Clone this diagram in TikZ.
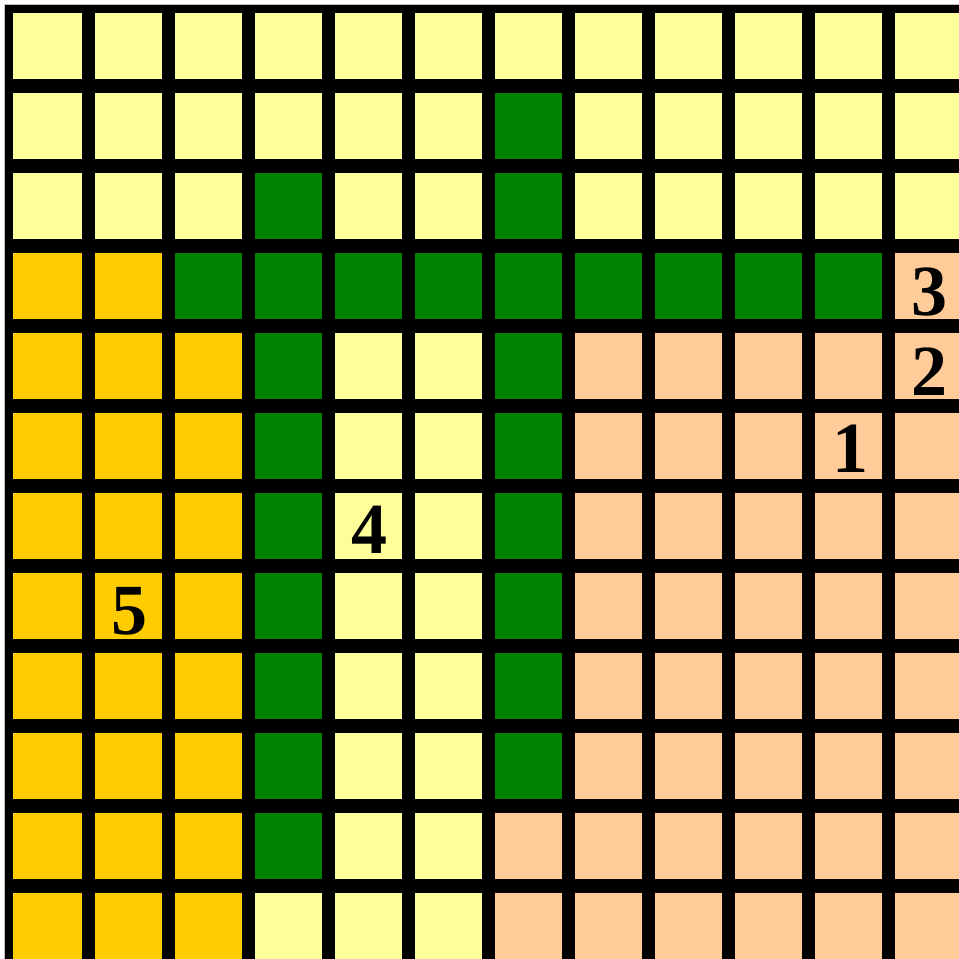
\documentclass[tikz,border=0pt]{standalone}
\usepackage{fontspec}
\setmainfont{Liberation Serif}
\definecolor{cY}{HTML}{FFFF99}
\definecolor{cO}{HTML}{FFCC00}
\definecolor{cG}{HTML}{008000}
\definecolor{cP}{HTML}{FFCC99}
\tikzset{
  num/.style={inner sep=0pt, anchor=base, font=\fontsize{72}{72}\selectfont\bfseries, text=black},
  cellfill/.style={fill=#1}
}
\begin{document}
\begin{tikzpicture}[x=1pt,y=-1pt]
\useasboundingbox (0,0) rectangle (959,959);
\fill[white] (0,0) rectangle (959,959);
\draw[black!25, line width=1pt] (4,959) -- (4,4) -- (959,4);
\fill[black] (5,5) rectangle (959,959);
\begin{scope}
\clip (5,5) rectangle (959,959);
\foreach \r/\l in {
 0/{Y,Y,Y,Y,Y,Y,Y,Y,Y,Y,Y,Y},
 1/{Y,Y,Y,Y,Y,Y,G,Y,Y,Y,Y,Y},
 2/{Y,Y,Y,G,Y,Y,G,Y,Y,Y,Y,Y},
 3/{O,O,G,G,G,G,G,G,G,G,G,P},
 4/{O,O,O,G,Y,Y,G,P,P,P,P,P},
 5/{O,O,O,G,Y,Y,G,P,P,P,P,P},
 6/{O,O,O,G,Y,Y,G,P,P,P,P,P},
 7/{O,O,O,G,Y,Y,G,P,P,P,P,P},
 8/{O,O,O,G,Y,Y,G,P,P,P,P,P},
 9/{O,O,O,G,Y,Y,G,P,P,P,P,P},
 10/{O,O,O,G,Y,Y,P,P,P,P,P,P},
 11/{O,O,O,Y,Y,Y,P,P,P,P,P,P}}{
  \foreach \c [count=\i from 0] in \l {
    \pgfmathsetmacro\xa{ifthenelse(\i==0,13,15+80*\i)}
    \pgfmathsetmacro\xb{81.7+80*\i}
    \pgfmathsetmacro\ya{13+80*\r}
    \pgfmathsetmacro\yb{79+80*\r}
    \fill[cellfill=c\c] (\xa,\ya) rectangle (\xb,\yb);
  }
}
\end{scope}
\node[num] (n1) at (850,472.5) {1};
\node[num] (n2) at (929.5,395) {2};
\node[num] (n3) at (929.5,315) {3};
\node[num] (n4) at (369.5,553) {4};
\node[num] (n5) at (129,634) {5};
\end{tikzpicture}
\end{document}
